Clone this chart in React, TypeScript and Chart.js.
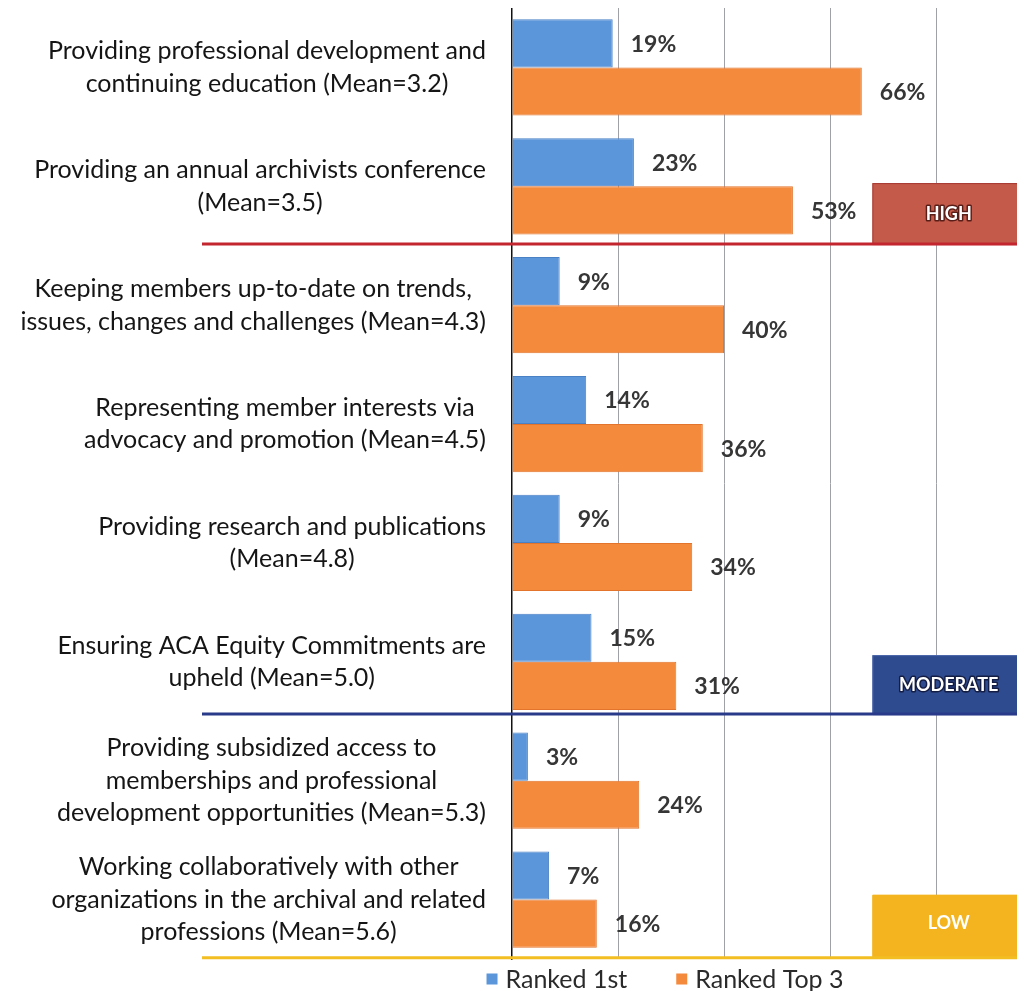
import React, { useEffect, useRef } from "react";
import { Chart, registerables } from "chart.js";

Chart.register(...registerables);

const categories: string[][] = [
  ["Providing professional development and", "continuing education (Mean=3.2)"],
  ["Providing an annual archivists conference", "(Mean=3.5)"],
  ["Keeping members up-to-date on trends,", "issues, changes and challenges (Mean=4.3)"],
  ["Representing member interests via", "advocacy and promotion (Mean=4.5)"],
  ["Providing research and publications", "(Mean=4.8)"],
  ["Ensuring ACA Equity Commitments are", "upheld (Mean=5.0)"],
  ["Providing subsidized access to", "memberships and professional", "development opportunities (Mean=5.3)"],
  ["Working collaboratively with other", "organizations in the archival and related", "professions (Mean=5.6)"],
];

const seriesNames = ["Ranked 1st", "Ranked Top 3"];
const rankedFirst = [19, 23, 9, 14, 9, 15, 3, 7];
const rankedTop3 = [66, 53, 40, 36, 34, 31, 24, 16];

const tierNames = ["HIGH", "MODERATE", "LOW"];
const tierLastCategory = [1, 5, 7];

const xTicks = [0, 20, 40, 60, 80, 100];

const FONT = "Lato, 'Open Sans', sans-serif";
const VISIBLE_W = 1017;

const tierStyles = [
  { fill: "#C35A4A", border: "#A83A32", line: "#C4262F", outline: "#5a1e18", offset: 0.486, h: 61 },
  { fill: "#2F4B8F", border: "#4E6AAE", line: "#2A3A8A", outline: "#141e45", offset: 0.44, h: 59 },
  { fill: "#F3B420", border: "#F3B420", line: "#F2BE22", outline: "", offset: 0.49, h: 63 },
];

const overlayPlugin = {
  id: "overlay",
  afterDatasetsDraw(chart: any) {
    const ctx = chart.ctx;
    ctx.save();
    ctx.font = `bold 23px ${FONT}`;
    ctx.fillStyle = "#363636";
    ctx.textAlign = "left";
    ctx.textBaseline = "middle";
    chart.data.datasets.forEach((ds: any, di: number) => {
      const meta = chart.getDatasetMeta(di);
      meta.data.forEach((bar: any, i: number) => {
        ctx.fillText(`${ds.data[i]}%`, bar.x + 18, bar.y + 1);
      });
    });
    ctx.restore();
  },
  afterDraw(chart: any) {
    const ctx = chart.ctx;
    const xs = chart.scales.x;
    const ys = chart.scales.y;
    ctx.save();

    // category labels: block right-aligned, lines centered within block
    ctx.font = `25px ${FONT}`;
    ctx.fillStyle = "#151515";
    ctx.textAlign = "center";
    ctx.textBaseline = "middle";
    const rightEdge = chart.chartArea.left - 26;
    const lh = 32.5;
    categories.forEach((lines, i) => {
      const w = Math.max(...lines.map((l) => ctx.measureText(l).width));
      const cx = rightEdge - w / 2;
      const cy = ys.getPixelForValue(i);
      lines.forEach((l, j) => {
        ctx.fillText(l, cx, cy + (j - (lines.length - 1) / 2) * lh);
      });
    });

    // tier separators and boxes
    tierNames.forEach((name, t) => {
      const st = tierStyles[t];
      const y = ys.getPixelForValue(tierLastCategory[t] + st.offset);
      const bx = xs.getPixelForValue(68);
      const bh = st.h;
      ctx.fillStyle = st.fill;
      ctx.fillRect(bx, y - bh, chart.width - bx, bh);
      ctx.strokeStyle = st.border;
      ctx.lineWidth = 1;
      ctx.strokeRect(bx + 0.5, y - bh + 0.5, chart.width - bx, bh);

      ctx.strokeStyle = st.line;
      ctx.lineWidth = 3;
      ctx.beginPath();
      ctx.moveTo(194, y);
      ctx.lineTo(chart.width, y);
      ctx.stroke();

      ctx.font = `bold 18px ${FONT}`;
      ctx.textAlign = "center";
      ctx.textBaseline = "middle";
      const tx = (bx + VISIBLE_W) / 2;
      const ty = y - bh / 2 + (t === 2 ? -3 : 1);
      if (st.outline) {
        ctx.strokeStyle = st.outline;
        ctx.lineWidth = 3;
        ctx.lineJoin = "round";
        ctx.strokeText(name, tx, ty);
      }
      ctx.fillStyle = "#ffffff";
      ctx.fillText(name, tx, ty);
    });

    // legend
    ctx.font = `25px ${FONT}`;
    ctx.textAlign = "left";
    ctx.textBaseline = "middle";
    const box = 11;
    const gap = 8;
    const itemGap = 49;
    const widths = seriesNames.map((n) => ctx.measureText(n).width);
    const total = widths.reduce((a, w) => a + box + gap + w, 0) + itemGap * (seriesNames.length - 1);
    let lx = 657 - total / 2;
    const ly = 971;
    seriesNames.forEach((n, i) => {
      const ds = chart.data.datasets[i];
      ctx.fillStyle = ds.backgroundColor;
      ctx.fillRect(lx, ly - box / 2, box, box);
      ctx.fillStyle = "#2a2a2a";
      ctx.fillText(n, lx + box + gap, ly + 1);
      lx += box + gap + widths[i] + itemGap;
    });

    ctx.restore();
  },
};

export default function App() {
  const ref = useRef<HTMLCanvasElement | null>(null);

  useEffect(() => {
    if (!ref.current) return;
    const chart = new Chart(ref.current, {
      type: "bar",
      data: {
        labels: categories.map((c) => c.join(" ")),
        datasets: [
          {
            label: seriesNames[0],
            data: rankedFirst,
            backgroundColor: "#5B95DA",
            borderColor: "#4A80C4",
            borderWidth: 1,
            categoryPercentage: 0.81,
            barPercentage: 1,
          },
          {
            label: seriesNames[1],
            data: rankedTop3,
            backgroundColor: "#F48A3C",
            borderColor: "#E2742C",
            borderWidth: 1,
            categoryPercentage: 0.81,
            barPercentage: 1,
          },
        ],
      },
      options: {
        indexAxis: "y",
        animation: false,
        responsive: true,
        maintainAspectRatio: false,
        layout: { padding: { left: 0, right: 6, top: 0, bottom: 32 } },
        plugins: {
          legend: { display: false },
          tooltip: { enabled: false },
        },
        scales: {
          x: {
            type: "linear",
            min: xTicks[0],
            max: xTicks[xTicks.length - 1],
            afterBuildTicks: (s: any) => {
              s.ticks = xTicks.map((v) => ({ value: v }));
            },
            ticks: { display: false },
            grid: {
              drawTicks: false,
              color: (c: any) => (c.tick && c.tick.value === 0 ? "rgba(0,0,0,0)" : "#a0a0a8"),
              lineWidth: 1,
            },
            border: { display: false },
            afterFit: (s: any) => {
              s.height = 0;
            },
          },
          y: {
            type: "category",
            ticks: { display: false },
            grid: { display: false },
            border: { display: true, color: "#111111", width: 1.5 },
            afterFit: (s: any) => {
              s.width = 504;
            },
          },
        },
      },
      plugins: [overlayPlugin],
    });
    return () => chart.destroy();
  }, []);

  return (
    <div style={{ width: VISIBLE_W, height: 983, overflow: "hidden" }}>
      <div style={{ width: 1040, height: 983, position: "relative" }}>
        <canvas ref={ref} />
      </div>
    </div>
  );
}
